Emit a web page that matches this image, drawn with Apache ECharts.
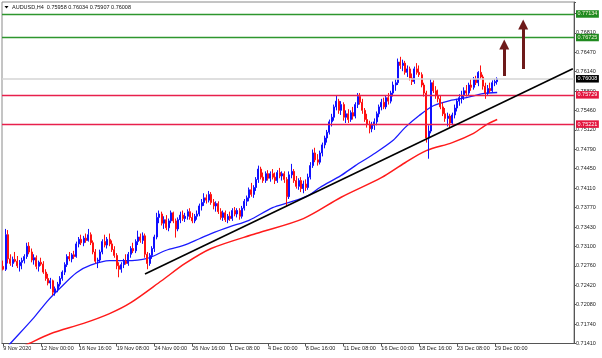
<!DOCTYPE html>
<html>
<head>
<meta charset="utf-8">
<script src="https://cdn.jsdelivr.net/npm/echarts@6/dist/echarts.min.js"></script>
<style>html,body{margin:0;padding:0;background:#fff}#c{width:602px;height:358px}</style>
</head>
<body>
<div id="c"></div>
<script>
// ---- data (AUDUSD H4, bar index 0 = 9 Nov 2020 08:00) ----
const opens = [0.7275,0.7270,0.7330,0.7288,0.7280,0.7287,0.7284,0.7276,0.7282,0.7285,0.7292,0.7310,0.7300,0.7286,0.7290,0.7275,0.7282,0.7279,0.7265,0.7254,0.7246,0.7250,0.7230,0.7236,0.7244,0.7254,0.7265,0.7278,0.7292,0.7288,0.7295,0.7292,0.7314,0.7322,0.7316,0.7324,0.7320,0.7330,0.7316,0.7300,0.7284,0.7286,0.7300,0.7318,0.7312,0.7322,0.7314,0.7304,0.7294,0.7276,0.7270,0.7278,0.7284,0.7280,0.7296,0.7306,0.7302,0.7318,0.7326,0.7320,0.7328,0.7296,0.7280,0.7294,0.7306,0.7326,0.7360,0.7366,0.7350,0.7356,0.7342,0.7354,0.7368,0.7354,0.7340,0.7356,0.7364,0.7358,0.7362,0.7370,0.7360,0.7354,0.7362,0.7366,0.7380,0.7386,0.7394,0.7390,0.7400,0.7386,0.7380,0.7384,0.7370,0.7360,0.7368,0.7356,0.7362,0.7358,0.7372,0.7366,0.7372,0.7362,0.7376,0.7388,0.7394,0.7408,0.7400,0.7412,0.7426,0.7444,0.7430,0.7424,0.7436,0.7428,0.7436,0.7430,0.7424,0.7438,0.7432,0.7436,0.7426,0.7396,0.7434,0.7440,0.7424,0.7414,0.7424,0.7410,0.7418,0.7412,0.7430,0.7450,0.7472,0.7460,0.7456,0.7472,0.7486,0.7498,0.7508,0.7526,0.7534,0.7552,0.7562,0.7546,0.7556,0.7534,0.7540,0.7530,0.7542,0.7536,0.7556,0.7570,0.7560,0.7546,0.7530,0.7522,0.7514,0.7520,0.7526,0.7540,0.7552,0.7560,0.7552,0.7568,0.7562,0.7576,0.7590,0.7594,0.7630,0.7624,0.7628,0.7612,0.7618,0.7602,0.7596,0.7618,0.7612,0.7608,0.7590,0.7576,0.7498,0.7510,0.7594,0.7580,0.7572,0.7566,0.7552,0.7540,0.7532,0.7536,0.7524,0.7538,0.7550,0.7562,0.7568,0.7572,0.7580,0.7576,0.7590,0.7586,0.7600,0.7594,0.7612,0.7604,0.7588,0.7576,0.7584,0.7580,0.7594,0.75958];
const highs = [0.7285,0.7340,0.7338,0.7296,0.7292,0.7300,0.7293,0.7286,0.7290,0.7296,0.7316,0.7317,0.7306,0.7296,0.7294,0.7285,0.7290,0.7284,0.7270,0.7262,0.7255,0.7252,0.7240,0.7248,0.7258,0.7268,0.7282,0.7296,0.7300,0.7298,0.7302,0.7318,0.7326,0.7330,0.7328,0.7332,0.7340,0.7334,0.7320,0.7305,0.7290,0.7304,0.7322,0.7330,0.7326,0.7332,0.7320,0.7310,0.7298,0.7282,0.7282,0.7288,0.7296,0.7300,0.7310,0.7316,0.7322,0.7337,0.7332,0.7334,0.7332,0.7300,0.7298,0.7310,0.7330,0.7368,0.7372,0.7370,0.7362,0.7364,0.7358,0.7372,0.7370,0.7358,0.7360,0.7370,0.7372,0.7368,0.7374,0.7376,0.7368,0.7366,0.7372,0.7384,0.7392,0.7402,0.7400,0.7406,0.7404,0.7392,0.7388,0.7388,0.7376,0.7372,0.7372,0.7366,0.7370,0.7376,0.7378,0.7376,0.7376,0.7380,0.7392,0.7398,0.7412,0.7420,0.7416,0.7430,0.7450,0.7448,0.7438,0.7440,0.7442,0.7440,0.7444,0.7438,0.7442,0.7446,0.7440,0.7440,0.7430,0.7440,0.7453,0.7444,0.7432,0.7428,0.7430,0.7424,0.7426,0.7436,0.7456,0.7478,0.7481,0.7470,0.7476,0.7490,0.7502,0.7512,0.7530,0.7540,0.7556,0.7572,0.7566,0.7562,0.7560,0.7546,0.7548,0.7546,0.7552,0.7560,0.7576,0.7576,0.7566,0.7550,0.7540,0.7528,0.7526,0.7532,0.7544,0.7556,0.7566,0.7568,0.7572,0.7576,0.7580,0.7596,0.7600,0.7636,0.7639,0.7634,0.7632,0.7624,0.7622,0.7610,0.7622,0.7628,0.7624,0.7612,0.7594,0.7580,0.7520,0.7600,0.7598,0.7588,0.7582,0.7572,0.7560,0.7550,0.7542,0.7540,0.7542,0.7556,0.7566,0.7574,0.7580,0.7586,0.7590,0.7594,0.7600,0.7604,0.7606,0.7614,0.7624,0.7608,0.7594,0.7590,0.7594,0.7598,0.7600,0.76034];
const lows = [0.7268,0.7267,0.7280,0.7276,0.7274,0.7282,0.7272,0.7266,0.7270,0.7280,0.7288,0.7296,0.7282,0.7278,0.7270,0.7266,0.7276,0.7262,0.7250,0.7242,0.7236,0.7225,0.7224,0.7230,0.7240,0.7250,0.7260,0.7274,0.7284,0.7282,0.7288,0.7290,0.7308,0.7312,0.7310,0.7316,0.7318,0.7312,0.7296,0.7280,0.7272,0.7282,0.7296,0.7308,0.7306,0.7310,0.7300,0.7290,0.7270,0.7256,0.7264,0.7272,0.7278,0.7276,0.7290,0.7298,0.7298,0.7312,0.7316,0.7314,0.7290,0.7270,0.7276,0.7288,0.7300,0.7322,0.7350,0.7346,0.7340,0.7338,0.7336,0.7350,0.7350,0.7325,0.7336,0.7350,0.7354,0.7352,0.7356,0.7356,0.7350,0.7350,0.7356,0.7362,0.7372,0.7380,0.7384,0.7386,0.7382,0.7374,0.7370,0.7366,0.7356,0.7354,0.7352,0.7350,0.7354,0.7354,0.7362,0.7360,0.7356,0.7358,0.7372,0.7380,0.7388,0.7396,0.7394,0.7406,0.7420,0.7426,0.7420,0.7420,0.7424,0.7422,0.7426,0.7418,0.7420,0.7428,0.7424,0.7420,0.7380,0.7392,0.7428,0.7420,0.7410,0.7408,0.7404,0.7402,0.7406,0.7408,0.7426,0.7446,0.7456,0.7450,0.7452,0.7466,0.7480,0.7490,0.7504,0.7518,0.7528,0.7546,0.7540,0.7538,0.7528,0.7524,0.7524,0.7526,0.7530,0.7532,0.7550,0.7556,0.7540,0.7526,0.7516,0.7506,0.7508,0.7512,0.7520,0.7534,0.7546,0.7548,0.7548,0.7556,0.7558,0.7570,0.7580,0.7590,0.7618,0.7614,0.7608,0.7604,0.7598,0.7590,0.7592,0.7608,0.7604,0.7586,0.7570,0.7490,0.7462,0.7506,0.7576,0.7566,0.7560,0.7548,0.7536,0.7526,0.7518,0.7516,0.7520,0.7532,0.7544,0.7554,0.7558,0.7564,0.7570,0.7572,0.7580,0.7582,0.7590,0.7588,0.7600,0.7582,0.7566,0.7572,0.7576,0.7578,0.7588,0.75907];
const closes = [0.7270,0.7330,0.7288,0.7280,0.7287,0.7284,0.7276,0.7282,0.7285,0.7292,0.7310,0.7300,0.7286,0.7290,0.7275,0.7282,0.7279,0.7265,0.7254,0.7246,0.7250,0.7230,0.7236,0.7244,0.7254,0.7265,0.7278,0.7292,0.7288,0.7295,0.7292,0.7314,0.7322,0.7316,0.7324,0.7320,0.7330,0.7316,0.7300,0.7284,0.7286,0.7300,0.7318,0.7312,0.7322,0.7314,0.7304,0.7294,0.7276,0.7270,0.7278,0.7284,0.7280,0.7296,0.7306,0.7302,0.7318,0.7326,0.7320,0.7328,0.7296,0.7280,0.7294,0.7306,0.7326,0.7360,0.7366,0.7350,0.7356,0.7342,0.7354,0.7368,0.7354,0.7340,0.7356,0.7364,0.7358,0.7362,0.7370,0.7360,0.7354,0.7362,0.7366,0.7380,0.7386,0.7394,0.7390,0.7400,0.7386,0.7380,0.7384,0.7370,0.7360,0.7368,0.7356,0.7362,0.7358,0.7372,0.7366,0.7372,0.7362,0.7376,0.7388,0.7394,0.7408,0.7400,0.7412,0.7426,0.7444,0.7430,0.7424,0.7436,0.7428,0.7436,0.7430,0.7424,0.7438,0.7432,0.7436,0.7426,0.7396,0.7434,0.7440,0.7424,0.7414,0.7424,0.7410,0.7418,0.7412,0.7430,0.7450,0.7472,0.7460,0.7456,0.7472,0.7486,0.7498,0.7508,0.7526,0.7534,0.7552,0.7562,0.7546,0.7556,0.7534,0.7540,0.7530,0.7542,0.7536,0.7556,0.7570,0.7560,0.7546,0.7530,0.7522,0.7514,0.7520,0.7526,0.7540,0.7552,0.7560,0.7552,0.7568,0.7562,0.7576,0.7590,0.7594,0.7630,0.7624,0.7628,0.7612,0.7618,0.7602,0.7596,0.7618,0.7612,0.7608,0.7590,0.7576,0.7498,0.7510,0.7594,0.7580,0.7572,0.7566,0.7552,0.7540,0.7532,0.7536,0.7524,0.7538,0.7550,0.7562,0.7568,0.7572,0.7580,0.7576,0.7590,0.7586,0.7600,0.7594,0.7612,0.7604,0.7588,0.7576,0.7584,0.7580,0.7594,0.7596,0.76008];

// moving averages read at sample bars: [bar index, price]
const maBlue = [[0,0.7127],[3,0.7141],[13,0.7186],[19,0.7216],[24,0.7237],[31,0.7264],[37,0.7277],[45,0.7285],[52,0.7285],[61,0.7289],[69,0.7303],[76,0.7311],[83,0.7323],[88,0.7332],[96,0.7344],[104,0.7355],[114,0.7377],[121,0.7386],[129,0.7398],[134,0.7412],[143,0.7433],[149,0.7450],[156,0.7468],[165,0.7494],[170,0.7516],[176,0.7537],[182,0.7554],[189,0.7563],[196,0.7568],[203,0.7575],[209,0.7577]];
const maRed = [[0,0.7119],[11,0.7141],[20,0.7158],[34,0.7176],[45,0.7193],[54,0.7212],[67,0.7250],[77,0.7280],[88,0.7306],[107,0.7332],[127,0.7358],[143,0.7395],[160,0.7429],[170,0.7455],[179,0.7476],[190,0.7490],[199,0.7506],[204,0.7520],[209,0.7530]];

const greenLevels = [0.77134, 0.76725];
const redLevels = [0.75729, 0.75221];
const bidPrice = 0.76008;
const trendLine = [[60, 0.72617], [241, 0.76183]];
const arrowUp1 = [[212, 0.76057], [212, 0.76604]];
const arrowUp2 = [[220, 0.76178], [220, 0.76951]];

const xTickLabels = ['9 Nov 2020','12 Nov 00:00','16 Nov 16:00','19 Nov 08:00','24 Nov 00:00','26 Nov 16:00','1 Dec 08:00','4 Dec 00:00','8 Dec 16:00','11 Dec 08:00','16 Dec 00:00','18 Dec 16:00','23 Dec 08:00','29 Dec 00:00'];
const yTickLabels = ['0.71410','0.71740','0.72080','0.72420','0.72760','0.73100','0.73430','0.73770','0.74110','0.74450','0.74790','0.75120','0.75460','0.75800','0.76140','0.76470','0.76810'];
const titleText = 'AUDUSD,H4  0.75958 0.76034 0.75907 0.76008';

// ---- layout ----
const TICK_EVERY = 16;
const N_SLOTS = 242;           // bars + empty right shift area
const yMin = 0.71410, yMax = 0.77342, yStep = 0.003373;
const FONT = 'Liberation Sans';

const categories = [];
for (let i = 0; i < N_SLOTS; i++) categories.push(String(i));
const candles = opens.map((o, i) => [o, closes[i], lows[i], highs[i]]);

function lvlLabel(bg, fg) {
  return { show: true, position: 'end', distance: 2, formatter: p => Number(p.value).toFixed(5),
    backgroundColor: bg, color: fg, fontSize: 5.5, fontFamily: FONT, padding: [1, 1.5, 0.5, 1.5], lineHeight: 6 };
}

const chart = echarts.init(document.getElementById('c'), null, { renderer: 'canvas' });
chart.setOption({
  animation: false,
  backgroundColor: '#ffffff',
  grid: { left: 2, right: 28, top: 2, bottom: 14.5, show: true, borderColor: '#8a8a8a', borderWidth: 1, backgroundColor: '#fff' },
  graphic: [
    { type: 'polygon', shape: { points: [[4.5, 6], [8.5, 6], [6.5, 8.5]] }, style: { fill: '#000' } },
    { type: 'text', x: 12, y: 7.5, style: { text: titleText, font: '5.5px "Liberation Sans"', fill: '#111', textVerticalAlign: 'middle' } }
  ],
  xAxis: {
    type: 'category', data: categories, boundaryGap: true,
    axisLine: { show: true, lineStyle: { color: '#555', width: 1 } },
    axisTick: { show: true, alignWithLabel: true, length: 3, lineStyle: { color: '#555' },
      interval: (idx) => idx % TICK_EVERY === 0 && idx / TICK_EVERY < xTickLabels.length },
    axisLabel: { show: true, fontSize: 5.5, fontFamily: FONT, color: '#222', margin: 2, align: 'left',
      interval: (idx) => idx % TICK_EVERY === 0 && idx / TICK_EVERY < xTickLabels.length,
      formatter: (v, idx) => xTickLabels[Math.round(Number(v) / TICK_EVERY)] || '' },
    splitLine: { show: false }
  },
  yAxis: {
    type: 'value', position: 'right', scale: true, min: yMin, max: yMax, interval: yStep,
    axisLine: { show: true, lineStyle: { color: '#555', width: 1 } },
    axisTick: { show: true, length: 2, lineStyle: { color: '#555' } },
    axisLabel: { show: true, fontSize: 5.5, fontFamily: FONT, color: '#222', margin: 2,
      formatter: (v) => { const k = (v - yMin) / yStep; const r = Math.round(k);
        return (Math.abs(k - r) < 0.02 && yTickLabels[r]) ? yTickLabels[r] : ''; } },
    splitLine: { show: false }
  },
  series: [
    {
      type: 'line', data: maRed, showSymbol: false, smooth: 0.3, clip: true, z: 2,
      lineStyle: { color: '#ff1a1a', width: 1.5 }
    },
    {
      type: 'line', data: maBlue, showSymbol: false, smooth: 0.3, clip: true, z: 3,
      lineStyle: { color: '#1a1aff', width: 1.3 }
    },
    {
      type: 'candlestick', data: candles, barWidth: 1.5, z: 4,
      itemStyle: { color: '#1010ff', color0: '#ff1010', borderColor: '#1010ff', borderColor0: '#ff1010', borderWidth: 1 },
      markLine: {
        silent: true, symbol: ['none', 'none'], animation: false, precision: 5,
        data: [
          { yAxis: bidPrice, lineStyle: { color: '#d4d4d4', width: 1.5, type: 'solid' }, label: lvlLabel('#000000', '#ffffff') },
          ...greenLevels.map(v => ({ yAxis: v, lineStyle: { color: '#2e962e', width: 1.3, type: 'solid' }, label: lvlLabel('#1f8a1f', '#f4f4d8') })),
          ...redLevels.map(v => ({ yAxis: v, lineStyle: { color: '#e8204c', width: 1.3, type: 'solid' }, label: lvlLabel('#e3173f', '#ffffff') })),
          [ { coord: trendLine[0], lineStyle: { color: '#000', width: 1.6, type: 'solid' }, label: { show: false } }, { coord: trendLine[1] } ]
        ]
      }
    },
    {
      type: 'line', data: [], z: 5,
      markLine: {
        silent: true, animation: false, precision: 5, symbol: ['none', 'triangle'], symbolSize: 10,
        lineStyle: { color: '#6e1a1a', width: 3, type: 'solid' },
        itemStyle: { color: '#6e1a1a' },
        label: { show: false },
        data: [
          [ { coord: arrowUp1[0] }, { coord: arrowUp1[1] } ],
          [ { coord: arrowUp2[0] }, { coord: arrowUp2[1] } ]
        ]
      }
    }
  ]
});
</script>
</body>
</html>
